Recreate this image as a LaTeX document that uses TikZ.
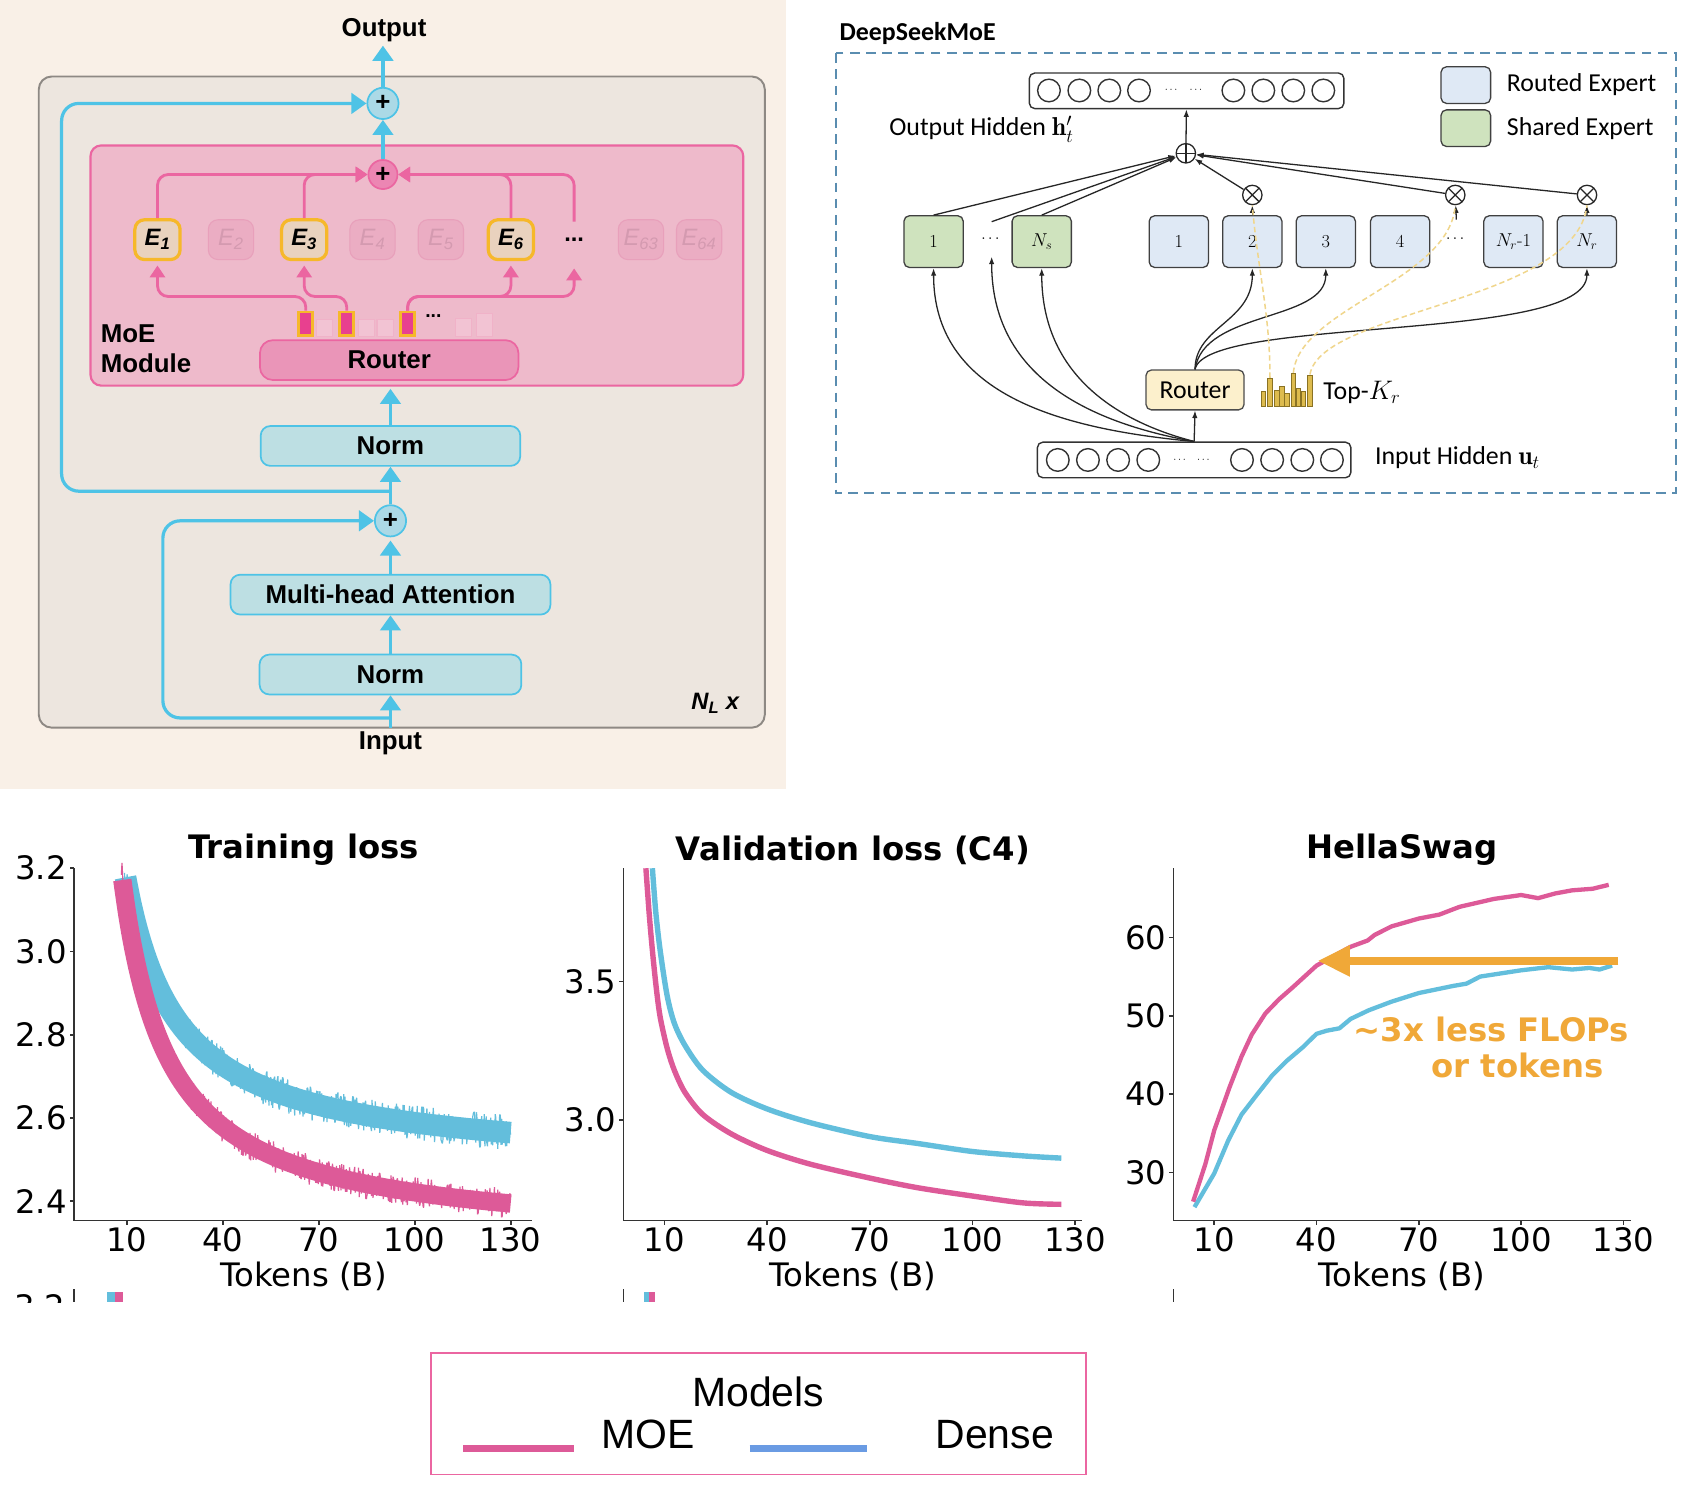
\documentclass[tikz,border=0pt]{standalone}
\usepackage{fontspec}
\usepackage{amsmath}
\usepackage{tikz}
\usetikzlibrary{positioning,arrows.meta}
\newfontfamily\boxfont{Liberation Sans}
\newfontfamily\legfont{Liberation Sans}
\newfontfamily\dsfont{Carlito}
\newfontfamily\plotfont{DejaVu Sans}
\newcommand\pxsize[1]{\fontsize{#1}{#1}\selectfont}

\definecolor{beige}{HTML}{F9F0E7}
\definecolor{layerfill}{HTML}{EDE6DF}
\definecolor{layerline}{HTML}{8E8984}
\definecolor{cyanline}{HTML}{4EC3E6}
\definecolor{normfill}{HTML}{BDDFE3}
\definecolor{sumfill}{HTML}{ABD9E6}
\definecolor{moefill}{HTML}{EEBACB}
\definecolor{moeline}{HTML}{EB66A1}
\definecolor{psumfill}{HTML}{EC86B3}
\definecolor{routerfill}{HTML}{EA95B8}
\definecolor{gold}{HTML}{F6B82A}
\definecolor{activefill}{HTML}{E9D2BE}
\definecolor{idlefill}{HTML}{EBADC3}
\definecolor{idleline}{HTML}{E8A0BB}
\definecolor{idletext}{HTML}{D49AB0}
\definecolor{hotpink}{HTML}{E8408F}
\definecolor{lobarfill}{HTML}{F2C3D3}
\definecolor{lobarline}{HTML}{F0B2C8}
\definecolor{sharedfill}{HTML}{CFE3BE}
\definecolor{routedfill}{HTML}{DFE9F5}
\definecolor{dsrouterfill}{HTML}{FCF0CC}
\definecolor{dashblue}{HTML}{5A8DB0}
\definecolor{histgold}{HTML}{DDBB4E}
\definecolor{histline}{HTML}{8A7224}
\definecolor{topk}{HTML}{F0D68C}
\definecolor{moecol}{HTML}{DD5A98}
\definecolor{densecol}{HTML}{63BEDC}
\definecolor{flops}{HTML}{F0A838}
\definecolor{legblue}{HTML}{6A9BE3}

\tikzset{%
  boldlbl/.style = {font=\boxfont\bfseries\pxsize{24}},
  layer/.style   = {draw=cyanline, fill=normfill, line width=1.6pt, rounded corners=9pt,
    minimum height=37pt, font=\boxfont\bfseries\pxsize{24}},
  addnode/.style = {circle, draw=cyanline, fill=sumfill, line width=1.6pt,
    minimum size=29pt, inner sep=0pt, font=\boxfont\bfseries\pxsize{24}},
  moebox/.style  = {draw=moeline, fill=moefill, line width=2pt, rounded corners=10pt},
  routerbox/.style = {draw=moeline, fill=routerfill, line width=1.6pt, rounded corners=12pt,
    minimum width=240pt, minimum height=37pt, font=\boxfont\bfseries\pxsize{24}},
  expert/.style  = {draw=gold, fill=activefill, line width=3pt, rounded corners=9pt,
    minimum width=42pt, minimum height=37pt, inner sep=0pt,
    font=\boxfont\bfseries\itshape\pxsize{22}},
  idle/.style    = {expert, draw=idleline, fill=idlefill, line width=1pt, text=idletext,
    font=\boxfont\itshape\pxsize{22}},
  hibar/.style   = {draw=gold, fill=hotpink, line width=2.5pt, minimum width=13pt,
    minimum height=22pt, inner sep=0pt},
  lobar/.style   = {draw=lobarline, fill=lobarfill, line width=1pt},
  flow/.style    = {draw=cyanline, line width=3pt, -{Triangle[width=19pt,length=14pt]}},
  route/.style   = {draw=moeline, line width=2.6pt, rounded corners=10pt,
    -{Triangle[width=14pt,length=11pt]}},
  % DeepSeekMoE
  dsbox/.style   = {draw=black!75, line width=1.2pt, rounded corners=5pt, minimum width=55pt,
    minimum height=48pt, inner sep=0pt, font=\pxsize{17}},
  shared/.style  = {dsbox, fill=sharedfill},
  routed/.style  = {dsbox, fill=routedfill},
  hbar/.style    = {draw=black!80, line width=1.3pt, rounded corners=5pt, minimum height=33pt},
  dstext/.style  = {font=\dsfont\pxsize{24}},
  dsrouter/.style = {draw=black!70, fill=dsrouterfill, line width=1.2pt, rounded corners=5pt,
    minimum width=91pt, minimum height=37pt, font=\dsfont\pxsize{24}},
  wire/.style    = {draw=black!85, line width=1.2pt, -{Latex[length=7pt,width=5pt]}},
  topkline/.style = {draw=topk, line width=1.4pt, dash pattern=on 5pt off 3pt},
  oplus/.style   = {circle, draw=black!85, line width=1.2pt, minimum size=18pt, inner sep=0pt,
    path picture={\draw[line width=1.2pt]
      (path picture bounding box.north) -- (path picture bounding box.south)
      (path picture bounding box.west) -- (path picture bounding box.east);}},
  otimes/.style  = {circle, draw=black!85, line width=1.2pt, minimum size=18pt, inner sep=0pt,
    path picture={\draw[line width=1.2pt]
      (path picture bounding box.north west) -- (path picture bounding box.south east)
      (path picture bounding box.north east) -- (path picture bounding box.south west);}},
  kbar/.style    = {draw=histline, fill=histgold, line width=0.8pt, minimum width=4.5pt,
    inner sep=0pt},
  smalldots/.style = {font=\pxsize{10}, inner sep=0pt},
  % plots
  axisline/.style = {draw=black!80, line width=1.5pt},
  ticklbl/.style  = {font=\plotfont\pxsize{30}, inner sep=2pt},
  headline/.style = {font=\plotfont\bfseries\pxsize{30}},
  noisy/.style    = {line width=1.1pt, line join=bevel}
}

\begin{document}
\pgfmathsetseed{5}
\begin{tikzpicture}[x=1pt, y=-1pt]
  \useasboundingbox (0,0) rectangle (1568,1382);
  \fill[white] (0,0) rectangle (1568,1382);

  % ---- MoE transformer block
  \fill[beige] (0,0) rectangle (730,732);
  \draw[draw=layerline, fill=layerfill, line width=1.8pt, rounded corners=12pt] (36,71) rectangle (710,675.5);

  \draw node at (356.5,28) [boldlbl] (out) {Output};
  \draw node at (355.5,96) [addnode] (tsum) {+};
  \draw node at (387,246.5) [moebox, minimum width=606pt, minimum height=223pt] (moe) {};
  \draw node at (355.5,162) [addnode, draw=moeline, fill=psumfill, minimum size=27pt] (psum) {+};

  \draw node at (146.2,222.5) [expert] (e1) {E\textsubscript{1}};
  \draw node at (214.4,222.5) [idle] (e2) {E\textsubscript{2}};
  \draw node at (282.4,222.5) [expert] (e3) {E\textsubscript{3}};
  \draw node at (345.8,222.5) [idle] (e4) {E\textsubscript{4}};
  \draw node at (409.3,222.5) [idle] (e5) {E\textsubscript{5}};
  \draw node at (474.3,222.5) [expert] (e6) {E\textsubscript{6}};
  \draw node at (533,222.5) [minimum width=42pt, minimum height=37pt, font=\boxfont\bfseries\pxsize{22}] (edots) {...};
  \draw node at (595,222.5) [idle] (e63) {E\textsubscript{63}};
  \draw node at (649,222.5) [idle] (e64) {E\textsubscript{64}};

  \draw node at (361.3,334.3) [routerbox] (router) {Router};
  \foreach \lx/\ly in {294/297, 333/297, 350/297, 423/296, 442/291}
    \draw[lobar] (\lx,\ly) rectangle (\lx+15,312.6);
  \draw node at (283.9,300.5) [hibar] (hb1) {};
  \draw node at (321.9,300.5) [hibar] (hb2) {};
  \draw node at (378.4,300.5) [hibar] (hb3) {};
  \draw node at (402.3,293) [font=\boxfont\bfseries\pxsize{18}] (bdots) {...};
  \draw node at (90,323.5) [anchor=west, align=left, font=\boxfont\bfseries\fontsize{24}{28}\selectfont] (moelbl) {MoE\\Module};

  \draw node at (362.5,414) [layer, minimum width=241pt] (norm2) {Norm};
  \draw node at (362.5,483.5) [addnode] (bsum) {+};
  \draw node at (362.5,552) [layer, minimum width=297pt] (mha) {Multi-head Attention};
  \draw node at (362.5,626.2) [layer, minimum width=243pt] (norm1) {Norm};
  \draw node at (362.5,690) [boldlbl] (inp) {Input};
  \draw node at (664,653) [font=\boxfont\bfseries\itshape\pxsize{22}] (nl) {N\textsubscript{L} x};
  \coordinate (fork1) at (362.5,666.5);
  \coordinate (fork2) at (362.5,456);

  \draw[flow] (inp.north) -- (norm1.south);
  \draw[flow] (norm1.north) -- (mha.south);
  \draw[flow, shorten >=3pt] (mha.north) -- (bsum.south);
  \draw[flow] (bsum.north) -- (norm2.south);
  \draw[flow, shorten >=2pt] (norm2.north) -- (norm2.north |- moe.south);
  \draw[flow] (psum.north) -- (tsum.south);
  \draw[flow] (tsum.north) -- (tsum.north |- out.south);
  \draw[flow, rounded corners=16pt] (fork1) -| ([xshift=-196pt]bsum.west) -- (bsum.west);
  \draw[flow, rounded corners=16pt] (fork2) -| ([xshift=-283pt]tsum.west) -- (tsum.west);

  \draw[route, shorten >=4pt] (hb1.north) -- ++(0,-13) -| (e1.south);
  \draw[route, shorten >=4pt] (hb2.north) -- ++(0,-13) -| (e3.south);
  \draw[route, shorten >=4pt] (hb3.north) -- ++(0,-13) -| (e6.south);
  \draw[route, shorten >=8pt] (hb3.north) -- ++(0,-13) -| (edots.south);
  \draw[route] (e1.north) |- (psum.west);
  \draw[route] (e3.north) |- (psum.west);
  \draw[route] (e6.north) |- (psum.east);
  \draw[route] (edots.north) -- ++(0,-8) |- (psum.east);

  % ---- DeepSeekMoE
  \draw node at (776,31) [anchor=west, font=\dsfont\bfseries\pxsize{24}] (dstitle) {DeepSeekMoE};
  \draw[dashblue, line width=2pt, dash pattern=on 9pt off 6pt] (776,49.5) rectangle (1556,458);

  \draw node at (1101.6,84.3) [hbar, minimum width=292pt] (obar) {};
  \foreach \cx in {973.8,1002,1029.8,1057.4,1145,1172.8,1200.6,1228.5}
    \draw[black!80, line width=1.3pt] (\cx,84) circle[radius=10.5pt];
  \draw node at (1088,84) [smalldots] (odots1) {$\cdots$};
  \draw node at (1111,84) [smalldots] (odots2) {$\cdots$};
  \draw node at (1000,120) [dstext, anchor=east] (olbl) {Output Hidden $\mathbf{h}'_t$};

  \draw node at (1360.8,79) [routed, minimum width=46pt, minimum height=34pt] (lgr) {};
  \draw node [right=11pt of lgr, dstext] (lgrt) {Routed Expert};
  \draw node at (1360.8,119) [shared, minimum width=46pt, minimum height=34pt] (lgs) {};
  \draw node [right=11pt of lgs, dstext] (lgst) {Shared Expert};

  \draw node at (1100.9,142.3) [oplus] (osum) {};
  \draw node at (866.7,224.3) [shared] (sh1) {1};
  \draw node at (920.6,222) [minimum height=32pt, font=\pxsize{14}] (shdots) {$\cdots$};
  \draw node at (967.1,224.3) [shared] (shn) {$N_s$};
  \draw node at (1094.4,224.3) [routed] (r1) {1};
  \draw node at (1162.6,224.3) [routed] (r2) {2};
  \draw node at (1230.8,224.3) [routed] (r3) {3};
  \draw node at (1299.8,224.3) [routed] (r4) {4};
  \draw node at (1352,222) [minimum height=36pt, font=\pxsize{14}] (rdots) {$\cdots$};
  \draw node at (1405,224.3) [routed] (rn1) {$N_r$-1};
  \draw node at (1473.2,224.3) [routed] (rn) {$N_r$};
  \draw node at (1162.6,181) [otimes] (m2) {};
  \draw node at (1351,181) [otimes] (mdots) {};
  \draw node at (1473.3,181) [otimes] (mn) {};

  \draw node at (1109.4,362) [dsrouter] (router2) {Router};
  \foreach \hx/\hy in {1172.8/363.6, 1185.2/362, 1189.8/359, 1194.5/365.1, 1205.3/360.5, 1210/363.6}
    \draw[histline, fill=histgold, line width=0.8pt] (\hx-2.2,\hy) rectangle (\hx+2.2,377.5);
  \draw node at (1179,364.35) [kbar, minimum height=26.3pt] (k1) {};
  \draw node at (1200.7,362.05) [kbar, minimum height=30.9pt] (k2) {};
  \draw node at (1216.1,362.8) [kbar, minimum height=29.4pt] (k3) {};
  \draw node at (1225,364) [dstext, anchor=west] (topklbl) {Top-$K_r$};

  \draw node at (1108.6,427) [hbar, minimum width=291pt] (ibar) {};
  \foreach \cx in {982,1010,1038,1066,1153,1181,1209,1236.5}
    \draw[black!80, line width=1.3pt] (\cx,427) circle[radius=10.5pt];
  \draw node at (1096,427) [smalldots] (idots1) {$\cdots$};
  \draw node at (1118,427) [smalldots] (idots2) {$\cdots$};
  \draw node at (1273,425) [dstext, anchor=west] (ilbl) {Input Hidden $\mathbf{u}_t$};

  \draw[wire] (osum) -- (obar);
  \draw[wire] (sh1.north) -- (osum);
  \draw[wire] (shdots.north) -- (osum);
  \draw[wire] (shn.north) -- (osum);
  \draw[wire] (m2) -- (osum);
  \draw[wire] (mdots) -- (osum);
  \draw[wire] (mn) -- (osum);
  \draw[wire] (r2.north) -- (m2);
  \draw[wire] (rdots.north) -- (mdots);
  \draw[wire] (rn.north) -- (mn);

  \draw[wire] (ibar.north) -- (router2.south);
  \draw[wire] (ibar.north) .. controls +(-130,-12) and +(0,115) .. (sh1.south);
  \draw[wire] (ibar.north) .. controls +(-100,-18) and +(0,110) .. (shdots.south);
  \draw[wire] (ibar.north) .. controls +(-70,-18) and +(0,100) .. (shn.south);
  \draw[wire] (router2.north) .. controls +(0,-40) and +(0,50) .. (r2.south);
  \draw[wire] (router2.north) .. controls +(8,-55) and +(0,50) .. (r3.south);
  \draw[wire] (router2.north) .. controls +(10,-50) and +(0,70) .. (rn.south);

  \draw[topkline] (k1.north) .. controls +(0,-60) and +(5,60) .. (m2.south);
  \draw[topkline] (k2.north) .. controls +(5,-60) and +(-5,70) .. (mdots.south);
  \draw[topkline] (k3.north) .. controls +(10,-60) and +(-10,90) .. (mn.south);

  % ---- training loss
  \draw node at (281.8,789) [headline] (tl) {Training loss};
  \draw node at (281.8,1185) [ticklbl] (tlx) {Tokens (B)};
  \begin{scope}[shift={(88pt,-2042.8pt)}, x=2.97pt, y=386.5pt,
      declare function={fd(\t)=2.48+11.65/(\t+7.09); fm(\t)=2.3+12.9/(\t+6.2);}]
    \draw[axisline] (-6.53,3.2) -- (-6.53,2.354) -- (136.7,2.354);
    \foreach \t in {10,40,70,100,130}
      \draw[axisline] (\t,2.354) -- ++(0pt,-4pt) node[ticklbl, below] (atx\t) {\t};
    \foreach \v [count=\i] in {2.4,2.6,2.8,3.0,3.2}
      \draw[axisline] (-6.53,\v) -- ++(-4pt,0pt) node[ticklbl, left] (aty\i) {\v};
    \draw[densecol, line width=20pt] plot[domain=9.6:130, samples=80, smooth] (\x,{fd(\x)});
    \draw[densecol, noisy] plot[domain=9.3:130, samples=600] (\x,{fd(\x)+0.042*rand});
    \draw[moecol, line width=17pt] plot[domain=8.6:130, samples=80, smooth] (\x,{fm(\x)});
    \draw[moecol, noisy] plot[domain=8.3:130, samples=600] (\x,{fm(\x)+0.037*rand});
  \end{scope}

  % ---- validation loss
  \draw node at (791.8,789) [headline] (vl) {Validation loss (C4)};
  \draw node at (791.8,1185) [ticklbl] (vlx) {Tokens (B)};
  \begin{scope}[shift={(585pt,-1810.1pt)}, x=3.177pt, y=256.8pt]
    \draw[axisline] (-1.92,3.91) -- (-1.92,2.637) -- (131.9,2.637);
    \foreach \t in {10,40,70,100,130}
      \draw[axisline] (\t,2.637) -- ++(0pt,-4pt) node[ticklbl, below] (btx\t) {\t};
    \foreach \v [count=\i] in {3.0,3.5}
      \draw[axisline] (-1.92,\v) -- ++(-4pt,0pt) node[ticklbl, left] (bty\i) {\v};
    \draw[densecol, line width=5pt] plot[smooth] coordinates {(6.5,3.91) (7.5,3.75)
      (8.8,3.61) (10.8,3.45) (12.9,3.35) (16,3.27) (21.2,3.18) (29.5,3.10) (40,3.04)
      (52.7,2.99) (70,2.94) (84,2.915) (100,2.886) (115,2.87) (126,2.862)};
    \draw[moecol, line width=5pt] plot[smooth] coordinates {(4.6,3.91) (5.6,3.74)
      (6.6,3.6) (7.7,3.47) (8.8,3.37) (10.8,3.26) (12.9,3.18) (16,3.10) (21.2,3.02)
      (29.5,2.95) (40,2.89) (52.7,2.84) (70,2.79) (84,2.755) (100,2.725) (115,2.70)
      (126,2.695)};
  \end{scope}

  % ---- hellaswag
  \draw node at (1301.3,789) [headline] (hs) {HellaSwag};
  \draw node at (1301.3,1185) [ticklbl] (hsx) {Tokens (B)};
  \begin{scope}[shift={(1095.6pt,-1307pt)}, x=3.165pt, y=7.28pt]
    \draw[axisline] (-1.93,68.8) -- (-1.93,23.9) -- (132.3,23.9);
    \foreach \t in {10,40,70,100,130}
      \draw[axisline] (\t,23.9) -- ++(0pt,-4pt) node[ticklbl, below] (ctx\t) {\t};
    \foreach \v in {30,40,50,60}
      \draw[axisline] (-1.93,\v) -- ++(-4pt,0pt) node[ticklbl, left] (cty\v) {\v};
    \draw[densecol, line width=4pt, line join=round] plot coordinates {(4.2,25.6) (10,29.9)
      (14.1,34.1) (18,37.4) (22.8,40.1) (27,42.4) (31.4,44.3) (36,46) (40,47.7) (43,48.1)
      (46.7,48.4) (50,49.6) (55.3,50.7) (62,51.8) (70,52.9) (80,53.8) (84,54.1) (88,55.0)
      (100,55.8) (108,56.2) (115,55.9) (120,56.1) (123,55.9) (126.7,56.4)};
    \draw[moecol, line width=4pt, line join=round] plot coordinates {(3.8,26.3) (7.4,31.1)
      (10,35.4) (14.5,40.9) (18,44.8) (21,47.6) (25,50.3) (29,52.1) (33.2,53.7) (40,56.4)
      (45,57.6) (50,58.8) (55,59.6) (57,60.3) (62,61.4) (70,62.4) (76,62.9) (82,63.9)
      (92,64.9) (100,65.4) (105,65.0) (110,65.6) (115,66.0) (121,66.2) (125.7,66.7)};
    \coordinate (fl1) at (128.5,57);
    \coordinate (fl2) at (40.3,57);
    \draw[flops, line width=8pt, -{Triangle[width=27pt,length=30pt]}] (fl1) -- (fl2);
  \end{scope}
  \draw node at (1516,956) [anchor=east, text=flops, font=\plotfont\bfseries\pxsize{30}] (fltxt1) {\textasciitilde 3x less FLOPs};
  \draw node at (1492,989) [anchor=east, text=flops, font=\plotfont\bfseries\pxsize{30}] (fltxt2) {or tokens};

  % ---- cut-off strip under the plots
  \begin{scope}
    \clip (0,1190) rectangle (1568,1209);
    \draw node at (63,1213) [ticklbl, anchor=east] (frag) {3.2};
    \draw[axisline] (68.6,1197) -- (68.6,1209);
    \fill[densecol] (99.5,1199) rectangle (107,1209);
    \fill[moecol] (107,1199) rectangle (114.4,1209);
    \draw[axisline] (578.9,1197) -- (578.9,1209);
    \fill[densecol] (597.8,1199) rectangle (602.8,1209);
    \fill[moecol] (602.8,1199) rectangle (607.8,1209);
    \draw[axisline] (1089.5,1197) -- (1089.5,1209);
  \end{scope}

  % ---- legend
  \draw node at (704,1312.5) [draw=moeline, line width=1.5pt, minimum width=608pt, minimum height=113pt] (leg) {};
  \draw node at (704,1292) [font=\legfont\pxsize{38}] (legt) {Models};
  \draw[moecol, line width=6pt] (430,1344.5) -- (533,1344.5);
  \draw node at (602,1332) [font=\legfont\pxsize{38}] (legm) {MOE};
  \draw[legblue, line width=6pt] (696,1344.5) -- (804.6,1344.5);
  \draw node at (923.5,1332) [font=\legfont\pxsize{38}] (legd) {Dense};
\end{tikzpicture}
\end{document}
